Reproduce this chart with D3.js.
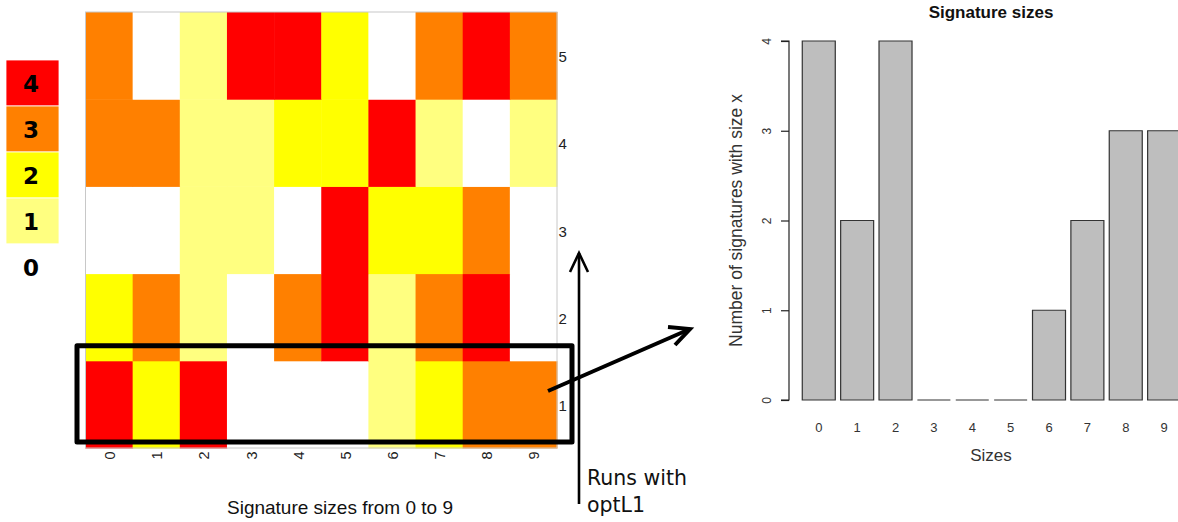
<!DOCTYPE html>
<html>
<head>
<meta charset="utf-8">
<script src="https://cdn.jsdelivr.net/npm/d3@7"></script>
<style>
  html, body { margin: 0; padding: 0; background: #fff; }
  svg { display: block; }
</style>
</head>
<body>
<svg id="chart" width="1178" height="522"></svg>
<script>
// ---------------- data ----------------
const sizes = [0, 1, 2, 3, 4, 5, 6, 7, 8, 9];
const runs = [1, 2, 3, 4, 5];
const run1 = [4, 2, 4, 0, 0, 0, 1, 2, 3, 3];
const run2 = [2, 3, 1, 0, 3, 4, 1, 3, 4, 0];
const run3 = [0, 0, 1, 1, 0, 4, 2, 2, 3, 0];
const run4 = [3, 3, 1, 1, 2, 2, 4, 1, 0, 1];
const run5 = [3, 0, 1, 4, 4, 2, 0, 3, 4, 3];
const levels = [4, 3, 2, 1, 0];
const levelColors = ["#FF0000", "#FF8000", "#FFFF00", "#FFFF80", "#FFFFFF"];
const signatureCounts = [4, 2, 4, 0, 0, 0, 1, 2, 3, 3];
const countTicks = [0, 1, 2, 3, 4];

const grid = { 1: run1, 2: run2, 3: run3, 4: run4, 5: run5 };
const cells = [];
runs.forEach(r => sizes.forEach((s, i) => cells.push({ run: r, size: s, v: grid[r][i] })));

const svg = d3.select("#chart");
const sans = "'Liberation Sans', Arial, sans-serif";
const dv = "'DejaVu Sans', sans-serif";

// ---------------- heatmap ----------------
const hx = d3.scaleBand().domain(sizes).range([85.5, 557]);
const hy = d3.scaleBand().domain(runs.slice().reverse()).range([12, 448]);
const color = d3.scaleOrdinal().domain(levels).range(levelColors);

const hm = svg.append("g");
hm.selectAll("rect.cell").data(cells).join("rect")
  .attr("class", "cell")
  .attr("x", d => hx(d.size))
  .attr("y", d => hy(d.run))
  .attr("width", hx.bandwidth() + 0.5)
  .attr("height", hy.bandwidth() + 0.5)
  .attr("fill", d => color(d.v));

hm.append("rect")
  .attr("x", hx.range()[0]).attr("y", hy.range()[0])
  .attr("width", hx.range()[1] - hx.range()[0])
  .attr("height", hy.range()[1] - hy.range()[0])
  .attr("fill", "none").attr("stroke", "#c8c8c8").attr("stroke-width", 1);

// right axis labels (runs)
hm.selectAll("text.run").data(runs).join("text")
  .attr("class", "run")
  .attr("x", 558.5)
  .attr("y", d => hy(d) + hy.bandwidth() / 2 + 1)
  .attr("dominant-baseline", "central")
  .attr("font-family", sans).attr("font-size", 15).attr("fill", "#222")
  .text(d => d);

// bottom rotated labels (sizes)
hm.selectAll("text.size").data(sizes).join("text")
  .attr("class", "size")
  .attr("transform", d => `translate(${hx(d) + hx.bandwidth() / 2 + 1},451.5) rotate(-90)`)
  .attr("text-anchor", "end")
  .attr("dominant-baseline", "central")
  .attr("font-family", sans).attr("font-size", 14.5).attr("fill", "#222")
  .text(d => d);

svg.append("text")
  .attr("x", 340).attr("y", 514)
  .attr("text-anchor", "middle")
  .attr("font-family", sans).attr("font-size", 19).attr("fill", "#111")
  .text("Signature sizes from 0 to 9");

// ---------------- legend ----------------
const ly = d3.scaleBand().domain(levels).range([60, 290]);
const lg = svg.append("g");
lg.selectAll("rect").data(levels).join("rect")
  .attr("x", 6).attr("y", d => ly(d))
  .attr("width", 53).attr("height", ly.bandwidth())
  .attr("fill", d => color(d))
  .attr("stroke", "#fff").attr("stroke-width", 0.8);
lg.selectAll("text").data(levels).join("text")
  .attr("x", 31).attr("y", d => ly(d) + ly.bandwidth() / 2 + 1)
  .attr("text-anchor", "middle").attr("dominant-baseline", "central")
  .attr("font-family", dv).attr("font-weight", "bold").attr("font-size", 23)
  .attr("fill", "#000")
  .text(d => d);

// ---------------- annotations ----------------
const ann = svg.append("g").attr("fill", "none").attr("stroke", "#000")
  .attr("stroke-linecap", "butt");
const rowTop = hy(1), rowBot = hy(1) + hy.bandwidth();
ann.append("rect")
  .attr("x", hx.range()[0] - 8.5).attr("y", rowTop - 15)
  .attr("width", (hx.range()[1] + 15) - (hx.range()[0] - 8.5))
  .attr("height", rowBot - 6 - (rowTop - 15))
  .attr("stroke-width", 5).attr("stroke-linejoin", "round");

// vertical arrow
ann.append("line").attr("x1", 579).attr("y1", 504).attr("x2", 579).attr("y2", 253)
  .attr("stroke-width", 2.6);
ann.append("polyline").attr("points", "570,272 579,253 588,272")
  .attr("stroke-width", 2.6).attr("stroke-linejoin", "miter");

// diagonal arrow
ann.append("line").attr("x1", 548).attr("y1", 391).attr("x2", 690).attr("y2", 329)
  .attr("stroke-width", 4);
ann.append("polyline").attr("points", "668,327 690,329 675,345")
  .attr("stroke-width", 4).attr("stroke-linejoin", "miter");

svg.append("text").attr("x", 587).attr("y", 485)
  .attr("font-family", dv).attr("font-size", 20.5).attr("fill", "#111")
  .text("Runs with");
svg.append("text").attr("x", 587).attr("y", 512)
  .attr("font-family", dv).attr("font-size", 20.5).attr("fill", "#111")
  .text("optL1");

// ---------------- bar chart ----------------
const bx = d3.scaleBand().domain(sizes).range([796.9, 1186]).paddingInner(0.14).paddingOuter(0.14);
const by = d3.scaleLinear().domain([0, 4]).range([400, 41]);
const bc = svg.append("g");

bc.selectAll("path.bar").data(sizes).join("path")
  .attr("class", "bar")
  .attr("d", (s, i) => {
    const p = d3.path();
    const x0 = bx(s), x1 = bx(s) + bx.bandwidth();
    const y0 = by(0), y1 = by(signatureCounts[i]);
    p.moveTo(x0, y0); p.lineTo(x0, y1); p.lineTo(x1, y1); p.lineTo(x1, y0); p.closePath();
    return p.toString();
  })
  .attr("fill", "#BEBEBE").attr("stroke", "#333").attr("stroke-width", 1.2);

// y axis
const yAxis = d3.axisLeft(by).tickValues(countTicks).tickSize(8).tickFormat(d3.format("d"));
const yg = bc.append("g").attr("transform", "translate(789,0)").call(yAxis);
yg.select(".domain").attr("d", `M-8,${by(0)}H0V${by(4)}H-8`).attr("stroke", "#222").attr("stroke-width", 1.2);
yg.selectAll(".tick line").attr("stroke", "#222").attr("stroke-width", 1.2);
yg.selectAll(".tick text")
  .attr("font-family", sans).attr("font-size", 12).attr("fill", "#333")
  .attr("x", null).attr("dy", null)
  .attr("transform", "translate(-22.5,0) rotate(-90)")
  .attr("text-anchor", "middle").attr("dominant-baseline", "central");

// x labels
bc.selectAll("text.xl").data(sizes).join("text")
  .attr("class", "xl")
  .attr("x", d => bx(d) + bx.bandwidth() / 2)
  .attr("y", 427)
  .attr("text-anchor", "middle").attr("dominant-baseline", "central")
  .attr("font-family", sans).attr("font-size", 13).attr("fill", "#333")
  .text(d => d);

bc.append("text").attr("x", 991).attr("y", 460.5)
  .attr("text-anchor", "middle")
  .attr("font-family", sans).attr("font-size", 17).attr("fill", "#333")
  .text("Sizes");

bc.append("text")
  .attr("transform", `translate(741.5,${(by(0) + by(4)) / 2}) rotate(-90)`)
  .attr("text-anchor", "middle")
  .attr("font-family", sans).attr("font-size", 17.5).attr("fill", "#333")
  .text("Number of signatures with size x");

bc.append("text").attr("x", 991).attr("y", 17.5)
  .attr("text-anchor", "middle")
  .attr("font-family", sans).attr("font-weight", "bold").attr("font-size", 17).attr("fill", "#111")
  .text("Signature sizes");
</script>
</body>
</html>
